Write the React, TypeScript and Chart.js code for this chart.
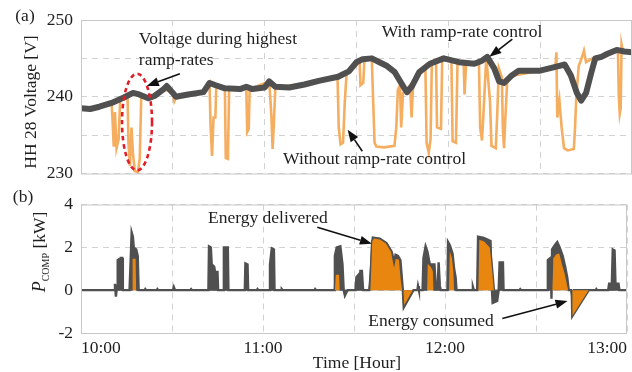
import React, { useEffect, useRef } from 'react';
import { Chart, registerables } from 'chart.js';

Chart.register(...registerables);

// ---------- DATA (x = minutes after 10:00) ----------
const withControl: [number, number][] = [
  [0, 238.5], [3, 238.4], [6, 238.7], [10, 239.2], [14, 239.9], [17, 240.5], [19, 240.3], [22, 239.8], [24, 240.1],
  [27, 241.0], [28, 241.4], [30, 240.5], [31, 240.0], [35, 240.3], [40, 240.6], [42, 241.8], [44, 241.5], [47, 241.1],
  [52, 241.0], [54, 241.3], [56, 241.0], [60, 241.2], [61.5, 242.0], [63.5, 241.3], [68, 241.2], [73, 241.6], [78, 242.1],
  [84, 242.6], [87.5, 243.3], [90, 244.5], [92, 244.9], [95, 245.0], [97.5, 244.5], [100, 244.0], [102.5, 243.2],
  [105.5, 241.2], [106.5, 240.6], [108, 241.3], [110.5, 243.2], [114, 244.3], [118.5, 245.0], [123.5, 244.5],
  [128.5, 244.3], [131, 244.7], [132.7, 245.2], [135, 243.7], [136.6, 242.0], [138.2, 241.8], [140.5, 242.7],
  [143, 243.4], [150, 243.4], [156, 244.0], [158, 244.2], [160, 242.8], [162, 240.5], [163.4, 239.5], [165, 240.5],
  [166.6, 243.0], [168, 245.0], [170, 245.2], [172, 245.6], [175, 246.1], [177.5, 245.9], [180, 245.8],
];

const withoutControl: [number, number][] = [
  [0, 238.5], [6, 238.7], [10, 239.2], [10.3, 237.0], [10.7, 233.5], [11.1, 238.0], [11.6, 233.3], [12.3, 234.5],
  [12.8, 239.6], [14, 239.9], [15.2, 240.2], [15.5, 234.0], [16.0, 231.0], [16.5, 236.0], [17.0, 232.5], [17.6, 230.3],
  [18.6, 230.2], [19.2, 232.0], [19.7, 240.3], [22, 239.8], [27, 241.0], [30, 240.5], [30.5, 239.4], [31.2, 240.0],
  [40, 240.6], [42, 241.8], [42.3, 236.5], [42.8, 232.3], [43.3, 237.3], [43.9, 237.3], [44.2, 241.5], [47, 241.1],
  [47.3, 232.0], [48.0, 231.9], [48.4, 241.1], [54, 241.3], [54.3, 235.4], [54.8, 235.8], [55.1, 241.0],
  [61.5, 242.0], [62.2, 237.5], [62.6, 233.2], [63.0, 236.5], [63.5, 241.3], [73, 241.6], [78, 242.1], [83.8, 242.6],
  [84.2, 236.0], [84.8, 233.8], [85.6, 234.0], [86.2, 239.5], [86.8, 243.3], [90, 244.5], [91, 244.8],
  [91.3, 241.5], [92.2, 241.8], [92.6, 244.9], [95, 245.0], [95.4, 240.0], [95.9, 234.0], [96.5, 233.5], [99, 233.4],
  [102.4, 233.6], [103.0, 236.0], [103.5, 240.9], [104.2, 241.5], [104.6, 236.0], [105.2, 240.5], [107.5, 241.5],
  [108.0, 237.3], [108.5, 241.6], [112.5, 244.0], [112.9, 234.0], [113.6, 232.7], [114.2, 234.5], [114.6, 244.3],
  [116, 244.6], [116.3, 236.0], [117.6, 235.8], [118.0, 244.9], [121, 244.7], [121.4, 234.2], [122.5, 234.0],
  [123.0, 244.5], [125, 244.4], [125.3, 240.3], [125.8, 244.4], [130, 244.6], [130.4, 236.0], [131.0, 234.3],
  [131.5, 238.0], [132.4, 245.2], [133.6, 239.5], [134.1, 233.6], [135.5, 233.3], [136.0, 238.0], [136.5, 243.7],
  [137.5, 242.5], [137.8, 236.0], [138.2, 233.3], [138.6, 237.0], [139.2, 241.8], [140.5, 242.7], [150, 243.4],
  [155, 244.0], [155.3, 245.8], [155.6, 237.3], [156.3, 239.5], [157.0, 236.0], [157.8, 233.3], [159.0, 233.0],
  [161.0, 233.2], [161.4, 236.0], [161.8, 240.0], [162.6, 244.0], [163.8, 245.3], [164.3, 246.0], [165.0, 244.5],
  [167, 245.0], [172, 245.6], [175.4, 246.0], [175.7, 240.0], [176.0, 237.8], [176.3, 238.5], [176.6, 246.8],
  [177, 246.0], [180, 245.8],
];

const pCompTotal: [number, number][] = [
  [0, 0], [11.0, 0], [11.2, 0.3], [11.5, -0.3], [11.9, 0.2], [12.1, 1.4], [12.6, 1.45], [12.8, 0.3], [13.1, 1.5],
  [13.6, 1.5], [13.8, 0], [16.0, 0], [16.3, 1.1], [16.7, 2.7], [17.1, 2.5], [17.4, 2.0], [18.2, 1.9], [18.7, 1.6],
  [19.0, 0], [21.0, 0], [21.2, 0.05], [21.5, 0], [25.0, 0], [25.2, 0.05], [25.5, 0], [30.3, 0], [30.6, 0.15], [31.0, 0],
  [36.0, 0], [36.3, 0.05], [36.6, 0], [42.0, 0], [42.2, 2.05], [42.8, 2.0], [43.1, 1.2], [43.9, 1.1], [44.2, 0.85],
  [45.0, 0.85], [45.2, 0], [46.9, 0], [47.1, 2.0], [48.4, 2.0], [48.6, 0], [54.0, 0], [54.2, 1.25], [54.9, 1.2],
  [55.1, 0], [58.0, 0], [58.2, 0.05], [58.5, 0], [62.1, 0], [62.3, 1.2], [62.9, 1.95], [63.6, 1.9], [63.8, 0],
  [66.0, 0], [66.2, 0.05], [66.5, 0], [77.0, 0], [77.2, 0.05], [77.5, 0], [83.5, 0], [83.7, 1.6], [84.3, 2.0],
  [85.5, 2.05], [86.2, 1.2], [86.6, 0], [87.0, -0.25], [87.5, -0.1], [88.0, 0], [90.5, 0], [90.8, 0.6], [91.4, 0.7],
  [91.6, 0.1], [92.1, 0.9], [92.6, 0.9], [93.0, 0], [95.0, 0], [95.3, 0.4], [96.2, 2.45], [98.5, 2.4], [100.7, 2.2],
  [102.4, 1.8], [103.3, 1.3], [103.7, 1.65], [104.5, 1.6], [105.3, 1.4], [106.1, 0], [106.4, -0.8], [109.6, 0],
  [110.9, 0], [111.1, 0.2], [111.4, 0], [112.6, 0], [112.9, 1.5], [113.6, 2.05], [114.2, 1.8], [115.0, 1.2],
  [116.0, 1.2], [116.3, 0.5], [116.5, 1.25], [116.9, 0.3], [117.6, 0.2], [117.9, 1.3], [118.3, 0.2], [118.6, 0],
  [120.8, 0], [121.0, 2.25], [121.6, 2.1], [122.5, 1.7], [123.0, 1.0], [123.5, 0.6], [123.8, 0], [129.0, 0],
  [129.2, 0.15], [129.5, 0], [130.6, 0], [130.9, 2.5], [132.5, 2.45], [133.5, 2.4], [135.0, 2.3], [135.4, 0.2],
  [135.7, -0.6], [137.2, -0.5], [137.7, 0], [138.0, 1.3], [139.1, 1.3], [139.3, 0], [144.5, 0], [144.8, 0.05],
  [145.1, 0], [153.7, 0], [153.9, 1.4], [154.8, 1.5], [155.1, -0.4], [155.3, 1.9], [156.2, 2.1], [157.0, 2.25],
  [157.8, 2.0], [158.8, 1.6], [159.6, 1.1], [160.3, 0.6], [160.8, 0], [161.6, 0], [162.0, -0.3], [162.5, 0],
  [169.7, 0], [169.9, 0.05], [170.2, 0], [173.8, 0], [174.1, 0.3], [175.0, 0.3], [175.3, 1.9], [175.9, 1.85],
  [176.2, 0.3], [177.2, 0.3], [177.5, 0], [180, 0],
];

const pCompEnergy: [number, number][] = [
  [0, 0], [16.6, 0], [16.8, 1.5], [18.2, 1.5], [18.4, 0], [83.5, 0], [83.8, 0.75], [85.3, 0.75], [85.5, 0],
  [95.2, 0], [95.8, 2.3], [96.5, 2.45], [98.5, 2.4], [100.7, 2.2], [102.4, 1.8], [103.2, 1.2], [103.6, 1.5],
  [105.0, 1.45], [105.6, 0.5], [106.1, 0], [106.4, -0.8], [109.6, 0], [113.9, 0], [114.1, 1.3], [115.5, 1.1],
  [116.2, 0.9], [116.4, 0], [121.1, 0], [121.4, 2.0], [122.5, 1.5], [123.0, 0.8], [123.2, 0], [130.8, 0],
  [131.1, 2.4], [133.0, 2.3], [135.0, 2.0], [135.7, 1.0], [136.3, 0], [155.2, 0], [155.5, 1.5], [156.5, 1.7],
  [157.8, 1.75], [158.8, 1.2], [159.6, 0.8], [160.8, 0], [161.6, 0], [161.8, -1.3], [167.6, 0], [180, 0],
];

const hourTickLabels = ['10:00', '11:00', '12:00', '13:00'];
const voltTickLabels = [230, 240, 250];
const powerTickLabels = [-2, 0, 2, 4];

// annotation anchors in data units (minutes, value)
const topNotes = [
  { text: 'Voltage during highest', x: 18.9, y: 247.5, align: 'left' },
  { text: 'ramp-rates', x: 18.9, y: 244.7, align: 'left' },
  { text: 'With ramp-rate control', x: 124.5, y: 248.4, align: 'center' },
  { text: 'Without ramp-rate control', x: 95.9, y: 231.9, align: 'center' },
];
const topArrows = [
  { from: [32.3, 243.0], to: [21.5, 241.4] },
  { from: [140.9, 247.5], to: [133.4, 245.2] },
  { from: [91.9, 232.9], to: [87.1, 235.7] },
];
const highlightEllipse = { x: 18.3, y: 236.7, rx: 4.9, ry: 6.3 };
const bottomNotes = [
  { text: 'Energy delivered', x: 61.6, y: 3.36, align: 'center' },
  { text: 'Energy consumed', x: 115.4, y: -1.45, align: 'center' },
];
const bottomArrows = [
  { from: [77.9, 2.94], to: [95.9, 2.17] },
  { from: [138.9, -1.32], to: [160.4, -0.51] },
];

// ---------- STYLE ----------
const FONT = "'Liberation Serif', 'Times New Roman', serif";
const FS = 17.5;
const TEXT = '#1e1e1e';
const GRID = '#d2d2d2';
const FRAME = '#c8c8c8';
const DARK = '#505050';
const LIGHT_ORANGE = '#f5ad60';
const ORANGE = '#e8860f';

function arrow(ctx: CanvasRenderingContext2D, x1: number, y1: number, x2: number, y2: number) {
  const ang = Math.atan2(y2 - y1, x2 - x1);
  const hl = 12, hw = 4.5;
  const bx = x2 - hl * Math.cos(ang), by = y2 - hl * Math.sin(ang);
  ctx.save();
  ctx.strokeStyle = '#111';
  ctx.fillStyle = '#111';
  ctx.lineWidth = 1.6;
  ctx.beginPath();
  ctx.moveTo(x1, y1);
  ctx.lineTo(bx, by);
  ctx.stroke();
  ctx.beginPath();
  ctx.moveTo(x2, y2);
  ctx.lineTo(bx + hw * Math.sin(ang), by - hw * Math.cos(ang));
  ctx.lineTo(bx - hw * Math.sin(ang), by + hw * Math.cos(ang));
  ctx.closePath();
  ctx.fill();
  ctx.restore();
}

function frame(chart: any) {
  const { ctx, chartArea: a } = chart;
  ctx.save();
  ctx.strokeStyle = FRAME;
  ctx.lineWidth = 1;
  ctx.strokeRect(a.left + 0.5, a.top + 0.5, a.right - a.left - 1, a.bottom - a.top);
  ctx.restore();
}

function notes(chart: any, list: any[], arrows: any[]) {
  const { ctx } = chart;
  const xs = chart.scales.x, ys = chart.scales.y;
  ctx.save();
  ctx.font = `${FS}px ${FONT}`;
  ctx.fillStyle = TEXT;
  ctx.textBaseline = 'middle';
  list.forEach((n) => {
    ctx.textAlign = n.align;
    ctx.fillText(n.text, xs.getPixelForValue(n.x), ys.getPixelForValue(n.y));
  });
  ctx.restore();
  arrows.forEach((a) =>
    arrow(ctx, xs.getPixelForValue(a.from[0]), ys.getPixelForValue(a.from[1]),
      xs.getPixelForValue(a.to[0]), ys.getPixelForValue(a.to[1])));
}

const topPlugin = {
  id: 'topOverlay',
  afterDatasetsDraw(chart: any) {
    const { ctx } = chart;
    const xs = chart.scales.x, ys = chart.scales.y;
    frame(chart);
    // highlight ellipse
    const cx = xs.getPixelForValue(highlightEllipse.x);
    const cy = ys.getPixelForValue(highlightEllipse.y);
    const rx = xs.getPixelForValue(highlightEllipse.x + highlightEllipse.rx) - cx;
    const ry = cy - ys.getPixelForValue(highlightEllipse.y + highlightEllipse.ry);
    ctx.save();
    ctx.strokeStyle = '#e01e28';
    ctx.lineWidth = 2.6;
    ctx.setLineDash([4.5, 3.5]);
    ctx.beginPath();
    ctx.ellipse(cx, cy, rx, ry, 0, 0, Math.PI * 2);
    ctx.stroke();
    ctx.restore();
    notes(chart, topNotes, topArrows);
    // panel tag and axis title
    ctx.save();
    ctx.fillStyle = TEXT;
    ctx.font = `${FS}px ${FONT}`;
    ctx.textAlign = 'center';
    ctx.textBaseline = 'middle';
    ctx.fillText('(a)', 25, 16);
    ctx.translate(31, 102);
    ctx.rotate(-Math.PI / 2);
    ctx.fillText('HH 28 Voltage [V]', 0, 0);
    ctx.restore();
  },
};

const bottomPlugin = {
  id: 'bottomOverlay',
  afterDatasetsDraw(chart: any) {
    const { ctx, chartArea: a } = chart;
    frame(chart);
    notes(chart, bottomNotes, bottomArrows);
    ctx.save();
    ctx.fillStyle = TEXT;
    ctx.font = `${FS}px ${FONT}`;
    ctx.textAlign = 'center';
    ctx.textBaseline = 'middle';
    ctx.fillText('(b)', 23, 11);
    ctx.fillText('Time [Hour]', (a.left + a.right) / 2 + 3, 177);
    // P_COMP [kW] rotated label
    ctx.translate(45, 66);
    ctx.rotate(-Math.PI / 2);
    ctx.textAlign = 'left';
    ctx.textBaseline = 'alphabetic';
    const pFont = `italic ${FS + 0.5}px ${FONT}`;
    const sFont = `10px ${FONT}`;
    const kFont = `${FS}px ${FONT}`;
    ctx.font = pFont; const wP = ctx.measureText('P').width;
    ctx.font = sFont; const wS = ctx.measureText('COMP').width;
    ctx.font = kFont; const wK = ctx.measureText(' [kW]').width;
    let x = -(wP + wS + wK) / 2;
    ctx.font = pFont; ctx.fillText('P', x, 0); x += wP;
    ctx.font = sFont; ctx.fillText('COMP', x, 4); x += wS;
    ctx.font = kFont; ctx.fillText(' [kW]', x, 0);
    ctx.restore();
  },
};

const tickFont = { family: FONT, size: FS };

function xScale(showLabels: boolean, height: number) {
  return {
    type: 'linear',
    min: 0,
    max: 180,
    afterFit: (s: any) => { s.height = height; },
    ticks: {
      display: showLabels,
      stepSize: 30,
      autoSkip: false,
      maxRotation: 0,
      align: 'inner',
      padding: 5,
      color: TEXT,
      font: tickFont,
      callback: (v: number) => (v % 60 === 0 ? hourTickLabels[v / 60] : ''),
    },
    grid: { color: GRID, lineWidth: 1, drawTicks: false },
    border: { display: false, dash: [6, 5] },
  };
}

function yScale(min: number, max: number, step: number, labels: number[]) {
  return {
    min,
    max,
    afterFit: (s: any) => { s.width = 81; },
    ticks: {
      stepSize: step,
      padding: 8,
      color: TEXT,
      font: tickFont,
      callback: (v: number) => (labels.includes(v) ? String(v) : ''),
    },
    grid: { color: GRID, lineWidth: 1, drawTicks: false },
    border: { display: false, dash: [6, 5] },
  };
}

const pts = (arr: [number, number][]) => arr.map(([x, y]) => ({ x, y }));

export default function App() {
  const topRef = useRef<HTMLCanvasElement>(null);
  const botRef = useRef<HTMLCanvasElement>(null);

  useEffect(() => {
    const top = new Chart(topRef.current as HTMLCanvasElement, {
      type: 'line',
      data: {
        datasets: [
          { data: pts(withControl), borderColor: DARK, borderWidth: 6, pointRadius: 0, tension: 0, borderJoinStyle: 'round', borderCapStyle: 'round' },
          { data: pts(withoutControl), borderColor: LIGHT_ORANGE, borderWidth: 2.6, pointRadius: 0, tension: 0 },
        ],
      } as any,
      options: {
        animation: false,
        responsive: false,
        events: [],
        layout: { padding: { top: 20, bottom: 14, left: 0, right: 0 } },
        plugins: { legend: { display: false }, tooltip: { enabled: false } },
        scales: {
          x: xScale(false, 0),
          y: yScale(230, 250, 5, voltTickLabels),
        } as any,
      },
      plugins: [topPlugin],
    });
    const bot = new Chart(botRef.current as HTMLCanvasElement, {
      type: 'line',
      data: {
        datasets: [
          { data: pts(pCompEnergy), borderColor: DARK, borderWidth: 1.3, backgroundColor: ORANGE, fill: 'origin', pointRadius: 0, tension: 0 },
          { data: pts(pCompTotal), borderColor: DARK, borderWidth: 2.4, backgroundColor: DARK, fill: 'origin', pointRadius: 0, tension: 0 },
        ],
      } as any,
      options: {
        animation: false,
        responsive: false,
        events: [],
        layout: { padding: { top: 6, bottom: 0, left: 0, right: 0 } },
        plugins: { legend: { display: false }, tooltip: { enabled: false } },
        scales: {
          x: xScale(true, 39),
          y: yScale(-2, 4, 2, powerTickLabels),
        } as any,
      },
      plugins: [bottomPlugin],
    });
    return () => { top.destroy(); bot.destroy(); };
  }, []);

  return (
    <div style={{ position: 'fixed', left: 0, top: 0, width: 632, height: 372, background: '#fff' }}>
      <canvas ref={topRef} width={632} height={192} style={{ position: 'absolute', left: 0, top: 0, width: 632, height: 192 }} />
      <canvas ref={botRef} width={632} height={186} style={{ position: 'absolute', left: 0, top: 186, width: 632, height: 186 }} />
    </div>
  );
}
